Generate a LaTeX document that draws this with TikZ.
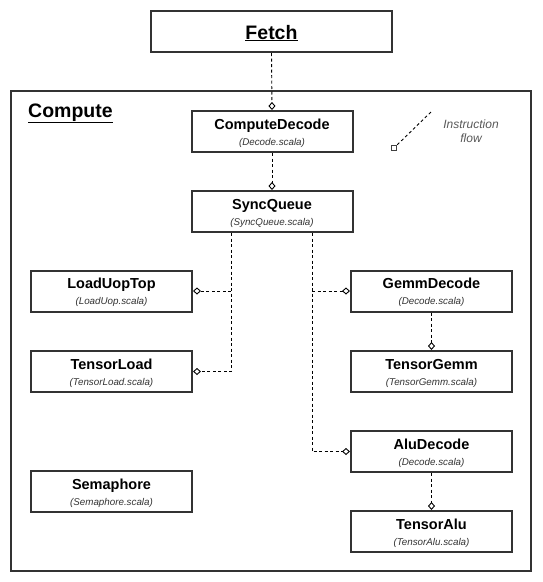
\documentclass[tikz,border=0pt]{standalone}
\usepackage{fontspec}
\setmainfont{Liberation Sans}
\usetikzlibrary{arrows.meta}
\definecolor{boxc}{HTML}{333333}
\definecolor{subc}{HTML}{333333}
\definecolor{legc}{HTML}{595959}
\tikzset{
  x=1pt, y=-1pt,
  modbox/.style={draw=boxc, line width=2pt, fill=white, minimum width=161pt, minimum height=41pt, inner sep=0pt},
  bigbox/.style={draw=boxc, line width=2pt, fill=white, minimum width=241pt, minimum height=41pt, inner sep=0pt},
  ttl/.style={anchor=base, inner sep=0pt, font=\fontsize{14.5}{16}\selectfont\bfseries},
  sub/.style={anchor=base, inner sep=0pt, text=subc, font=\fontsize{9.8}{12}\selectfont\itshape},
  dashline/.style={draw=black, line width=0.9pt, dash pattern=on 3pt off 2.5pt},
  flow/.style={dashline, -{Diamond[open, length=8pt, width=7pt, line width=0.9pt, sep=0pt]}},
}
\newcommand{\modnode}[5]{%
  \node[modbox] (#1) at (#2,#3) {};
  \node[ttl] (#1-t) at ([yshift=2.5pt]#1.center) {#4};
  \node[sub] (#1-s) at ([yshift=-13.5pt]#1.center) {(#5)};
}
\begin{document}
\begin{tikzpicture}
\useasboundingbox (0,0) rectangle (543,582);
\fill[white] (0,0) rectangle (543,582);
% outer compute box
\node[draw=boxc, line width=2pt, minimum width=520pt, minimum height=480pt, inner sep=0pt] (compute) at (271,331) {};
\node[anchor=base west, inner sep=0pt, font=\fontsize{19.5}{22}\selectfont\bfseries] (compute-t) at (28,117) {\underline{Compute}};
% fetch
\node[bigbox] (fetch) at (271.5,31.5) {};
\node[anchor=base, inner sep=0pt, font=\fontsize{19.5}{22}\selectfont\bfseries] (fetch-t) at (271.5,39) {\underline{Fetch}};
% modules
\modnode{cd}{272}{131.5}{ComputeDecode}{Decode.scala}
\modnode{sq}{272}{211.5}{SyncQueue}{SyncQueue.scala}
\modnode{lu}{111.5}{291}{LoadUopTop}{LoadUop.scala}
\modnode{tl}{111.5}{371.5}{TensorLoad}{TensorLoad.scala}
\modnode{sem}{111.5}{491.5}{Semaphore}{Semaphore.scala}
\modnode{gd}{431.5}{291}{GemmDecode}{Decode.scala}
\modnode{tg}{431.5}{371.5}{TensorGemm}{TensorGemm.scala}
\modnode{ad}{431.5}{451.5}{AluDecode}{Decode.scala}
\modnode{ta}{431.5}{531.5}{TensorAlu}{TensorAlu.scala}
% connectors
\draw[flow] (fetch.south) -- (cd.north);
\draw[flow] (cd.south) -- (sq.north);
\coordinate (ls) at ([xshift=-41pt]sq.south);
\coordinate (rs) at ([xshift=40pt]sq.south);
\draw[flow] (ls) |- (tl.east);
\draw[flow] (ls |- lu.east) -- (lu.east);
\draw[flow] (rs) |- (ad.west);
\draw[flow] (rs |- gd.west) -- (gd.west);
\draw[flow] (gd.south) -- (tg.north);
\draw[flow] (ad.south) -- (ta.north);
% legend
\node[draw=black!75, line width=1pt, fill=white, minimum size=5.5pt, inner sep=0pt] (lgsq) at (394,148) {};
\coordinate (lg2) at (432,111);
\draw[dashline] (lgsq.north east) -- (lg2);
\node[inner sep=0pt, align=center, text=legc, font=\fontsize{12}{14.5}\selectfont\itshape] (legend) at (471,131) {Instruction\\flow};
\end{tikzpicture}
\end{document}
